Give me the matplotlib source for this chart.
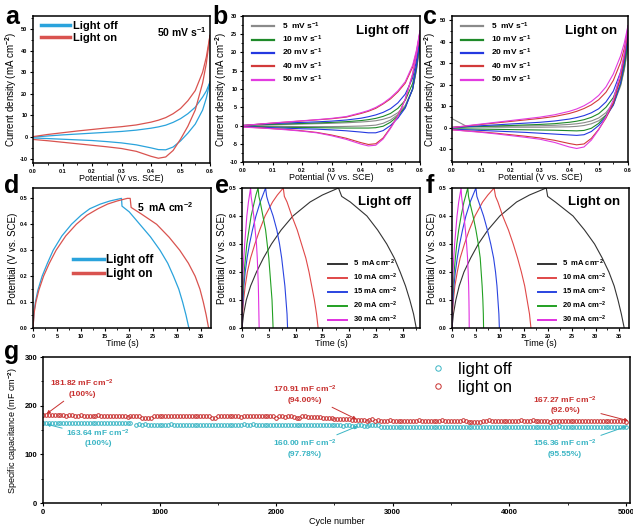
import matplotlib
matplotlib.use("Agg")
import matplotlib.pyplot as plt
from matplotlib.ticker import AutoMinorLocator, MultipleLocator
import numpy as np

plt.rcParams['font.family'] = ['Liberation Sans', 'DejaVu Sans']
plt.rcParams['font.weight'] = 'bold'
plt.rcParams['mathtext.fontset'] = 'custom'
plt.rcParams['mathtext.rm'] = 'Liberation Sans:bold'
plt.rcParams['mathtext.bf'] = 'Liberation Sans:bold'
plt.rcParams['mathtext.default'] = 'rm'
plt.rcParams['axes.unicode_minus'] = False

# ---------------- CV data (potential in V, current density in mA cm-2)
cv_e = [0.0, 0.05, 0.1, 0.15, 0.2, 0.25, 0.3, 0.35, 0.4, 0.425, 0.45, 0.475, 0.5, 0.525, 0.55, 0.575, 0.5875, 0.6]

# panel a, 50 mV s-1
a_off_up = [0.0, 0.5, 1.0, 1.4, 1.8, 2.2, 2.6, 3.2, 4.1, 4.7, 5.5, 6.8, 8.5, 10.8, 13.8, 18.5, 21.3, 25.5]
a_off_dn = [-0.4, -0.7, -1.0, -1.3, -1.6, -2.1, -2.7, -3.6, -5.0, -5.8, -5.9, -4.6, -1.8, 1.8, 6.0, 12.5, 18.0, 25.5]
a_on_up = [0.2, 1.2, 2.0, 2.8, 3.5, 4.2, 4.8, 5.6, 6.9, 7.8, 9.0, 10.8, 13.2, 16.8, 21.5, 30.0, 37.0, 47.0]
a_on_dn = [-1.1, -1.7, -2.4, -3.1, -3.8, -4.5, -5.3, -6.6, -8.9, -9.8, -9.2, -6.2, -1.0, 5.0, 12.5, 25.0, 34.0, 47.0]

# panel b, light off
b_up = {
    5: [0.0, 0.1, 0.2, 0.3, 0.4, 0.5, 0.6, 0.75, 0.95, 1.1, 1.3, 1.7, 2.3, 3.5, 5.5, 10.0, 15.0, 22.0],
    10: [0.0, 0.2, 0.3, 0.45, 0.55, 0.7, 0.85, 1.05, 1.35, 1.6, 1.95, 2.5, 3.3, 4.7, 6.9, 11.5, 16.3, 23.0],
    20: [0.0, 0.3, 0.5, 0.7, 0.85, 1.0, 1.2, 1.5, 2.0, 2.4, 2.9, 3.6, 4.6, 6.2, 8.6, 13.0, 17.6, 24.0],
    40: [0.0, 0.35, 0.65, 0.95, 1.25, 1.55, 1.85, 2.3, 3.3, 3.9, 4.7, 5.9, 7.3, 9.2, 11.6, 16.0, 20.0, 25.5],
    50: [0.0, 0.35, 0.7, 1.0, 1.3, 1.6, 1.95, 2.45, 3.5, 4.1, 4.95, 6.1, 7.6, 9.5, 12.0, 16.5, 20.5, 26.0],
}
b_dn = {
    5: [-0.1, -0.15, -0.2, -0.25, -0.3, -0.3, -0.3, -0.25, -0.15, -0.05, 0.1, 0.6, 1.5, 3.0, 5.2, 9.8, 15.0, 22.0],
    10: [-0.2, -0.3, -0.4, -0.5, -0.55, -0.6, -0.65, -0.7, -0.7, -0.7, -0.6, -0.2, 0.9, 2.6, 5.0, 10.0, 15.5, 23.0],
    20: [-0.3, -0.45, -0.6, -0.75, -0.9, -1.0, -1.2, -1.45, -1.8, -2.0, -2.0, -1.4, 0.0, 2.0, 4.8, 10.0, 16.0, 24.0],
    40: [-0.4, -0.6, -0.85, -1.1, -1.45, -1.9, -2.6, -3.5, -4.7, -5.2, -5.0, -3.4, -0.6, 2.6, 7.2, 14.0, 19.0, 25.5],
    50: [-0.45, -0.65, -0.9, -1.2, -1.55, -2.0, -2.8, -3.8, -5.1, -5.6, -5.4, -3.7, -0.8, 2.5, 7.2, 14.2, 19.3, 26.0],
}

# panel c, light on
c_up = {
    5: [0.3, 0.4, 0.5, 0.6, 0.7, 0.8, 0.9, 1.1, 1.5, 1.8, 2.3, 3.1, 4.5, 7.0, 11.5, 20.0, 27.5, 38.0],
    10: [0.0, 0.3, 0.55, 0.8, 1.0, 1.25, 1.5, 1.85, 2.5, 3.0, 3.7, 4.8, 6.5, 9.5, 14.0, 23.0, 30.0, 40.0],
    20: [0.0, 0.5, 0.9, 1.3, 1.7, 2.1, 2.5, 3.1, 4.0, 4.7, 5.6, 6.9, 8.8, 12.0, 17.0, 26.0, 33.0, 43.0],
    40: [0.0, 0.8, 1.5, 2.2, 2.9, 3.6, 4.3, 5.2, 6.6, 7.6, 8.9, 10.6, 13.0, 16.5, 22.0, 30.5, 37.0, 46.0],
    50: [0.0, 0.9, 1.7, 2.5, 3.3, 4.1, 4.9, 6.0, 7.6, 8.7, 10.2, 12.2, 15.0, 19.0, 25.0, 33.5, 39.5, 47.5],
}
c_dn = {
    5: [4.2, 0.6, 0.3, 0.2, 0.2, 0.2, 0.2, 0.3, 0.4, 0.6, 1.0, 1.8, 3.2, 5.8, 10.5, 19.5, 27.0, 38.0],
    10: [-0.5, -0.6, -0.7, -0.8, -0.9, -1.0, -1.1, -1.2, -1.4, -1.5, -1.3, -0.3, 2.0, 5.8, 11.0, 20.5, 28.5, 40.0],
    20: [-0.7, -1.0, -1.3, -1.6, -1.9, -2.2, -2.6, -3.0, -3.4, -3.6, -3.3, -1.8, 1.0, 5.0, 10.5, 21.0, 30.5, 43.0],
    40: [-1.0, -1.5, -2.0, -2.6, -3.3, -4.0, -4.8, -5.9, -7.4, -8.0, -7.6, -5.0, -0.8, 4.5, 11.5, 23.5, 33.0, 46.0],
    50: [-1.0, -1.6, -2.2, -2.9, -3.7, -4.5, -5.4, -6.9, -9.0, -9.7, -9.0, -5.8, -1.0, 5.0, 13.0, 26.0, 35.0, 47.5],
}
scan_rates = [5, 10, 20, 40, 50]

# ---------------- GCD data
d_off_t = [0, 0.2, 0.5, 1.0, 1.9, 3.0, 4.2, 6.0, 8.0, 10.0, 11.8, 14.0, 16.0, 18.4, 18.5, 20.0, 22.2, 24.4, 26.4, 28.0, 29.2, 30.3, 31.1, 31.8, 32.4]
d_off_v = [0, 0.06, 0.1, 0.145, 0.2, 0.25, 0.3, 0.355, 0.4, 0.435, 0.46, 0.478, 0.49, 0.5, 0.47, 0.448, 0.4, 0.352, 0.3, 0.25, 0.2, 0.15, 0.1, 0.05, 0]
d_on_t = [0, 0.25, 0.6, 1.2, 2.2, 3.4, 4.8, 6.8, 9.0, 11.2, 13.5, 15.5, 17.5, 19.6, 20.2, 20.4, 22.5, 25.7, 28.3, 30.5, 32.3, 33.7, 34.7, 35.4, 36.0, 36.5]
d_on_v = [0, 0.06, 0.1, 0.145, 0.2, 0.25, 0.3, 0.355, 0.4, 0.435, 0.46, 0.478, 0.49, 0.5, 0.5, 0.465, 0.44, 0.4, 0.35, 0.3, 0.25, 0.2, 0.15, 0.1, 0.05, 0]

gcd_v = [0, 0.05, 0.1, 0.15, 0.2, 0.25, 0.3, 0.35, 0.4, 0.45, 0.475, 0.5,
         0.47, 0.45, 0.4, 0.35, 0.3, 0.25, 0.2, 0.15, 0.1, 0.05, 0]
currents = [5, 10, 15, 20, 30]
e_t = {
    5: [0, 0.3, 0.8, 1.6, 2.7, 4.0, 5.5, 7.3, 9.5, 12.7, 15.0, 18.0, 18.6, 20.2, 23.3, 25.3, 27.0, 28.4, 29.5, 30.5, 31.3, 32.0, 32.5],
    10: [0, 0.1, 0.3, 0.6, 1.0, 1.6, 2.4, 3.3, 4.3, 5.7, 6.6, 7.7, 7.9, 8.4, 9.3, 10.3, 11.1, 11.9, 12.5, 13.0, 13.5, 13.9, 14.2],
    15: [0, 0.05, 0.2, 0.35, 0.6, 0.95, 1.4, 1.95, 2.6, 3.4, 3.9, 4.4, 4.6, 4.9, 5.8, 6.5, 7.0, 7.4, 7.7, 8.0, 8.2, 8.4, 8.5],
    20: [0, 0.03, 0.1, 0.25, 0.4, 0.65, 0.9, 1.3, 1.7, 2.3, 2.6, 3.0, 3.15, 3.4, 3.9, 4.4, 4.7, 5.0, 5.2, 5.4, 5.6, 5.7, 5.8],
    30: [0, 0.02, 0.06, 0.12, 0.2, 0.33, 0.5, 0.7, 0.9, 1.2, 1.4, 1.6, 1.7, 1.85, 2.2, 2.45, 2.7, 2.85, 2.95, 3.05, 3.1, 3.15, 3.2],
}
f_t = {
    5: [0, 0.3, 0.8, 1.5, 2.5, 3.9, 5.5, 7.5, 10.0, 13.5, 16.2, 19.7, 20.0, 21.6, 25.3, 27.7, 29.8, 31.4, 32.8, 33.9, 34.7, 35.4, 36.0],
    10: [0, 0.1, 0.3, 0.6, 1.1, 1.7, 2.6, 3.6, 4.8, 6.4, 7.5, 8.8, 9.1, 9.6, 10.6, 11.8, 12.8, 13.7, 14.5, 15.2, 15.7, 16.2, 16.5],
    15: [0, 0.05, 0.2, 0.4, 0.7, 1.1, 1.6, 2.2, 2.9, 3.8, 4.4, 5.0, 5.2, 5.6, 6.6, 7.4, 8.1, 8.7, 9.1, 9.4, 9.6, 9.8, 9.9],
    20: [0, 0.03, 0.1, 0.25, 0.45, 0.7, 1.0, 1.4, 1.9, 2.5, 2.9, 3.3, 3.45, 3.7, 4.4, 5.0, 5.5, 5.9, 6.1, 6.3, 6.45, 6.55, 6.6],
    30: [0, 0.02, 0.06, 0.13, 0.22, 0.36, 0.55, 0.8, 1.05, 1.4, 1.65, 1.9, 2.0, 2.15, 2.5, 2.8, 3.05, 3.25, 3.38, 3.48, 3.54, 3.58, 3.6],
}

# ---------------- cycling data (every 25 cycles)
cycles = list(range(0, 5001, 25))
cap_on = [
    181.8, 181.5, 181.5, 181.0, 181.0, 181.0, 180.5, 180.5, 178.0, 180.5, 181.0, 178.5, 178.5, 180.0, 178.5, 178.5, 178.5, 178.5, 178.5, 181.0,
    178.5, 178.5, 178.5, 178.5, 178.5, 178.5, 178.5, 178.5, 178.5, 176.0, 178.5, 178.5, 178.5, 178.5, 175.5, 175.5, 175.5, 175.5, 178.5, 178.5,
    178.5, 178.5, 178.5, 178.5, 178.5, 178.5, 178.5, 178.5, 178.5, 178.5, 178.5, 178.5, 178.5, 178.5, 178.5, 178.5, 178.5, 178.5, 175.5, 175.5,
    178.5, 178.5, 178.5, 178.5, 178.5, 178.5, 178.5, 178.5, 176.0, 178.5, 178.5, 178.5, 178.5, 178.5, 178.5, 178.5, 178.5, 178.5, 178.5, 178.5,
    175.5, 178.5, 178.5, 176.0, 178.5, 178.5, 176.0, 175.5, 175.5, 178.5, 178.5, 176.0, 177.5, 177.0, 176.5, 176.0, 175.5, 175.0, 174.5, 174.0,
    173.5, 173.5, 173.0, 173.0, 172.5, 172.0, 171.5, 171.0, 171.0, 170.9, 170.5, 169.5, 171.0, 172.0, 169.5, 171.5, 169.0, 169.0, 169.0, 171.0,
    169.0, 169.0, 169.0, 169.0, 169.0, 169.0, 169.0, 169.0, 169.0, 171.0, 169.0, 169.0, 169.0, 169.0, 169.0, 169.0, 169.0, 171.0, 169.0, 169.0,
    169.0, 169.0, 169.0, 169.0, 171.0, 169.0, 166.5, 166.5, 166.5, 166.5, 166.5, 169.0, 169.0, 171.0, 169.0, 169.0, 169.0, 169.0, 169.0, 169.0,
    169.0, 169.0, 169.0, 169.0, 171.0, 169.0, 169.0, 169.0, 171.0, 169.0, 169.0, 169.0, 169.0, 169.0, 166.5, 169.0, 169.0, 169.0, 169.0, 169.0,
    169.0, 169.0, 169.0, 169.0, 169.0, 169.0, 169.0, 169.0, 169.0, 169.0, 169.0, 169.0, 169.0, 169.0, 169.0, 169.0, 169.0, 169.0, 169.0, 168.0,
    167.3,
]
cap_off = [
    163.6, 163.6, 163.6, 163.6, 163.6, 163.6, 163.6, 163.6, 163.6, 163.6, 163.6, 163.6, 163.6, 163.6, 163.6, 163.6, 163.6, 163.6, 163.6, 163.6,
    163.6, 163.6, 163.6, 163.6, 163.6, 163.6, 163.6, 163.6, 163.6, 163.6, 163.6, np.nan, 160.5, 163.0, 160.5, 163.0, 160.0, 160.0, 160.0, 160.0,
    160.0, 160.0, 160.0, 160.0, 163.0, 160.0, 160.0, 160.0, 160.0, 160.0, 160.0, 160.0, 160.0, 160.0, 160.0, 160.0, 160.0, 160.0, 160.0, 160.0,
    160.0, 160.0, 160.0, 160.0, 160.0, 160.0, 160.0, 160.0, 160.0, 163.0, 160.0, 160.0, 163.0, 160.0, 160.0, 160.0, 160.0, 160.0, 160.0, 160.0,
    160.0, 160.0, 160.0, 160.0, 160.0, 160.0, 160.0, 160.0, 160.0, 160.0, 160.0, 160.0, 160.0, 160.0, 160.0, 160.0, 160.0, 160.0, 160.0, 160.0,
    159.5, 159.5, 159.5, 157.5, 159.5, 159.5, 157.5, 157.5, 160.0, 160.5, 157.5, 157.5, 159.5, 159.5, 159.5, 159.5, 157.0, 157.0, 157.0, 157.0,
    157.0, 157.0, 157.0, 157.0, 157.0, 157.0, 157.0, 157.0, 157.0, 157.0, 157.0, 155.5, 155.5, 157.0, 157.0, 157.0, 157.0, 157.0, 157.0, 157.0,
    157.0, 157.0, 157.0, 157.0, 157.0, 157.0, 157.0, 157.0, 157.0, 157.0, 157.0, 157.0, 157.0, 157.0, 157.0, 157.0, 157.0, 157.0, 157.0, 157.0,
    157.0, 157.0, 157.0, 157.0, 157.0, 157.0, 157.0, 157.0, 157.0, 157.0, 157.0, 157.0, 157.0, 157.0, 157.0, 157.0, 157.0, 158.5, 157.0, 157.0,
    157.0, 157.0, 157.0, 157.0, 157.0, 157.0, 157.0, 157.0, 157.0, 157.0, 157.0, 157.0, 157.0, 157.0, 157.0, 157.0, 157.0, 157.0, 157.0, 156.5,
    156.4,
]

# ---------------- style
BLUE = '#2aa3dc'
RED = '#d9534f'
cv_colors = {5: '#8a8a8a', 10: '#1f8a2a', 20: '#2438e0', 40: '#d23a3a', 50: '#e23be0'}
gcd_colors = {5: '#333333', 10: '#e04848', 15: '#2a44e0', 20: '#22a022', 30: '#e030e0'}
G_RED = '#c8302f'
G_CYAN = '#3ab5c4'

W, H = 633.0, 527.0
fig = plt.figure(figsize=(W / 100, H / 100), dpi=100)


def px_axes(l, t, r, b):
    return fig.add_axes([l / W, 1 - b / H, (r - l) / W, (b - t) / H])


def style(ax, tick_fs=4):
    for s in ax.spines.values():
        s.set_linewidth(1.1)
    ax.tick_params(which='major', direction='out', length=2.5, width=0.8, labelsize=tick_fs, pad=1.5)
    ax.tick_params(which='minor', direction='out', length=1.5, width=0.6)
    ax.xaxis.set_minor_locator(AutoMinorLocator(2))
    ax.yaxis.set_minor_locator(AutoMinorLocator(2))
    for lab in ax.get_xticklabels() + ax.get_yticklabels():
        lab.set_fontweight('bold')


CD = 'Current density (mA cm$^{-2}$)'
PV = 'Potential (V vs. SCE)'

# ---- a
ax = px_axes(33, 16, 210, 163)
ax.plot(cv_e, a_off_up, color=BLUE, lw=0.9, label='Light off')
ax.plot(cv_e, a_off_dn, color=BLUE, lw=0.9)
ax.plot(cv_e, a_on_up, color=RED, lw=0.9, label='Light on')
ax.plot(cv_e, a_on_dn, color=RED, lw=0.9)
ax.set_xlim(0, 0.6)
ax.set_ylim(-12, 56)
ax.xaxis.set_major_locator(MultipleLocator(0.1))
ax.yaxis.set_major_locator(MultipleLocator(10))
style(ax)
ax.set_xlabel(PV, fontsize=6.5, labelpad=0)
ax.set_ylabel(CD, fontsize=7)
ax.yaxis.set_label_coords(-0.078, 0.5)
leg = ax.legend(loc='upper left', bbox_to_anchor=(0.0, 1.02), frameon=False, fontsize=8,
                handlelength=2.6, handletextpad=0.3, labelspacing=0.15, borderaxespad=0.3)
for h in leg.get_lines():
    h.set_linewidth(2.5)
ax.text(0.84, 0.89, '50 mV s$^{-1}$', transform=ax.transAxes, ha='center', va='center', fontsize=7.5)

# ---- b, c
for (l, r, ups, dns, ylim, ymaj, title) in [
        (243, 420, b_up, b_dn, (-10, 30), 5, 'Light off'),
        (452, 628, c_up, c_dn, (-16, 52), 10, 'Light on')]:
    ax = px_axes(l, 16, r, 162)
    for sr in scan_rates:
        lab = '%d  mV s$^{-1}$' % sr if sr == 5 else '%d mV s$^{-1}$' % sr
        ax.plot(cv_e, ups[sr], color=cv_colors[sr], lw=0.8, label=lab)
        ax.plot(cv_e, dns[sr], color=cv_colors[sr], lw=0.8)
    ax.set_xlim(0, 0.6)
    ax.set_ylim(*ylim)
    ax.xaxis.set_major_locator(MultipleLocator(0.1))
    ax.yaxis.set_major_locator(MultipleLocator(ymaj))
    style(ax)
    ax.set_xlabel(PV, fontsize=6.5, labelpad=0)
    ax.set_ylabel(CD, fontsize=7)
    ax.yaxis.set_label_coords(-0.078, 0.5)
    leg = ax.legend(loc='upper left', bbox_to_anchor=(0.02, 1.01), frameon=False, fontsize=6,
                    handlelength=2.6, handletextpad=1.0, labelspacing=0.25, borderaxespad=0.3)
    for h in leg.get_lines():
        h.set_linewidth(1.6)
    ax.text(0.79, 0.9, title, transform=ax.transAxes, ha='center', va='center', fontsize=9.5)

# ---- d
ax = px_axes(33, 188, 211, 328)
ax.plot(d_off_t, d_off_v, color=BLUE, lw=0.9, label='Light off')
ax.plot(d_on_t, d_on_v, color=RED, lw=0.9, label='Light on')
ax.set_xlim(0, 37)
ax.set_ylim(0, 0.54)
ax.xaxis.set_major_locator(MultipleLocator(5))
ax.yaxis.set_major_locator(MultipleLocator(0.1))
style(ax)
ax.set_xlabel('Time (s)', fontsize=6.5, labelpad=0)
ax.set_ylabel(PV, fontsize=7)
ax.yaxis.set_label_coords(-0.085, 0.5)
leg = ax.legend(loc='upper left', bbox_to_anchor=(0.2, 0.56), frameon=False, fontsize=8.5,
                handlelength=2.6, handletextpad=0.2, labelspacing=0.15, borderaxespad=0.0)
for h in leg.get_lines():
    h.set_linewidth(2.5)
ax.text(0.74, 0.86, '5  mA cm$^{-2}$', transform=ax.transAxes, ha='center', va='center', fontsize=7.5)

# ---- e, f
for (l, r, tt, xlim, title) in [(242, 420, e_t, 33.2, 'Light off'),
                                (452, 629, f_t, 37, 'Light on')]:
    ax = px_axes(l, 188, r, 328)
    for cur in currents:
        lab = '%d  mA cm$^{-2}$' % cur if cur == 5 else '%d mA cm$^{-2}$' % cur
        ax.plot(tt[cur], gcd_v, color=gcd_colors[cur], lw=0.8, label=lab)
    ax.set_xlim(0, xlim)
    ax.set_ylim(0, 0.5)
    ax.xaxis.set_major_locator(MultipleLocator(5))
    ax.yaxis.set_major_locator(MultipleLocator(0.1))
    style(ax)
    ax.set_xlabel('Time (s)', fontsize=6.5, labelpad=0)
    ax.set_ylabel(PV, fontsize=7)
    ax.yaxis.set_label_coords(-0.085, 0.5)
    leg = ax.legend(loc='lower left', bbox_to_anchor=(0.46, -0.01), frameon=False, fontsize=5.5,
                    handlelength=2.4, handletextpad=0.8, labelspacing=0.35, borderaxespad=0.2)
    for h in leg.get_lines():
        h.set_linewidth(1.4)
    ax.text(0.8, 0.9, title, transform=ax.transAxes, ha='center', va='center', fontsize=9.5)

# ---- g
ax = px_axes(43, 357, 630, 503)
ax.plot(cycles, cap_off, ls='none', marker='o', ms=2.6, mfc='none', mec=G_CYAN, mew=0.7, label='light off')
ax.plot(cycles, cap_on, ls='none', marker='o', ms=2.6, mfc='none', mec=G_RED, mew=0.7, label='light on')
ax.set_xlim(0, 5035)
ax.set_ylim(0, 300)
ax.xaxis.set_major_locator(MultipleLocator(1000))
ax.yaxis.set_major_locator(MultipleLocator(100))
style(ax, tick_fs=5.5)
ax.set_xlabel('Cycle number', fontsize=6.5, labelpad=1)
ax.set_ylabel('Specific capacitance (mF cm$^{-2}$)', fontsize=6.5)
ax.yaxis.set_label_coords(-0.04, 0.5)
leg = ax.legend(loc='upper left', bbox_to_anchor=(0.63, 1.07), frameon=False,
                handlelength=1.2, handletextpad=0.6, labelspacing=0.2, markerscale=1.5,
                prop={'weight': 'normal', 'size': 12})

ann = [
    ('181.82 mF cm$^{-2}$\n(100%)', (334, 237), (30, 183), G_RED),
    ('163.64 mF cm$^{-2}$\n(100%)', (472, 135), (30, 162), G_CYAN),
    ('170.91 mF cm$^{-2}$\n(94.00%)', (2247, 224), (2690, 172), G_RED),
    ('160.00 mF cm$^{-2}$\n(97.78%)', (2247, 113), (2700, 158), G_CYAN),
    ('167.27 mF cm$^{-2}$\n(92.0%)', (4478, 203), (5020, 169), G_RED),
    ('156.36 mF cm$^{-2}$\n(95.55%)', (4478, 113), (5010, 158), G_CYAN),
]
for txt, xytext, xy, col in ann:
    ax.annotate(txt, xy=xy, xytext=xytext, ha='center', va='center', fontsize=6, color=col,
                linespacing=1.3,
                arrowprops=dict(arrowstyle='-|>', color=col, lw=0.7, mutation_scale=5, shrinkA=1, shrinkB=0))

# ---- panel letters
for lt, x, y in [('a', 12, 17), ('b', 220, 17), ('c', 430, 17),
                 ('d', 12, 186), ('e', 222, 186), ('f', 430, 186), ('g', 12, 352)]:
    fig.text(x / W, 1 - y / H, lt, fontsize=18, fontweight='bold', ha='center', va='center')

fig.savefig('out.png', dpi=100)
